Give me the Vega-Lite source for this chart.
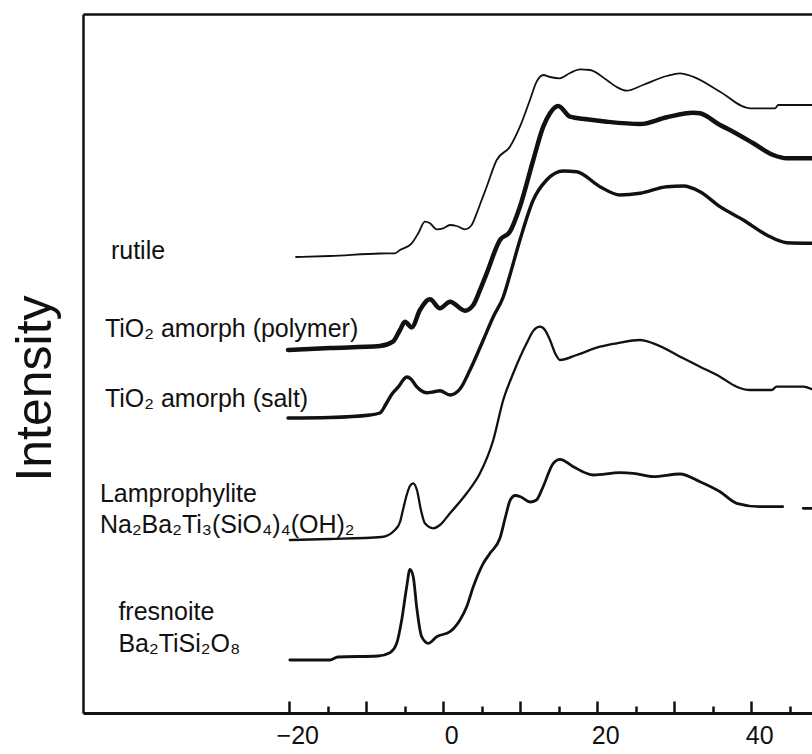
{
  "$schema": "https://vega.github.io/schema/vega-lite/v6.json",
  "width": 729,
  "height": 699,
  "autosize": "none",
  "padding": {"left": 83, "top": 14, "right": 0, "bottom": 41},
  "background": "white",
  "config": {
    "view": {"stroke": null},
    "axis": {"grid": false, "domainColor": "#111", "tickColor": "#111", "labelColor": "#111", "titleColor": "#111", "labelFont": "Liberation Sans", "titleFont": "Liberation Sans"}
  },
  "datasets": {
    "spectra": [
      {"series": "rutile", "part": "rutile", "energy": -19.13, "intensity": 45.6},
      {"series": "rutile", "part": "rutile", "energy": -14.73, "intensity": 45.7},
      {"series": "rutile", "part": "rutile", "energy": -8.23, "intensity": 45.95},
      {"series": "rutile", "part": "rutile", "energy": -6.28, "intensity": 45.97},
      {"series": "rutile", "part": "rutile", "energy": -5.62, "intensity": 46.3},
      {"series": "rutile", "part": "rutile", "energy": -4.1, "intensity": 46.97},
      {"series": "rutile", "part": "rutile", "energy": -3.25, "intensity": 47.97},
      {"series": "rutile", "part": "rutile", "energy": -2.38, "intensity": 49.13},
      {"series": "rutile", "part": "rutile", "energy": -1.73, "intensity": 48.97},
      {"series": "rutile", "part": "rutile", "energy": -0.86, "intensity": 48.37},
      {"series": "rutile", "part": "rutile", "energy": 0, "intensity": 48.47},
      {"series": "rutile", "part": "rutile", "energy": 0.87, "intensity": 48.8},
      {"series": "rutile", "part": "rutile", "energy": 1.74, "intensity": 48.7},
      {"series": "rutile", "part": "rutile", "energy": 2.82, "intensity": 48.37},
      {"series": "rutile", "part": "rutile", "energy": 3.69, "intensity": 48.8},
      {"series": "rutile", "part": "rutile", "energy": 4.34, "intensity": 49.97},
      {"series": "rutile", "part": "rutile", "energy": 4.99, "intensity": 51.3},
      {"series": "rutile", "part": "rutile", "energy": 5.64, "intensity": 52.63},
      {"series": "rutile", "part": "rutile", "energy": 6.94, "intensity": 55.3},
      {"series": "rutile", "part": "rutile", "energy": 8.66, "intensity": 56.63},
      {"series": "rutile", "part": "rutile", "energy": 9.96, "intensity": 58.63},
      {"series": "rutile", "part": "rutile", "energy": 11.26, "intensity": 61.3},
      {"series": "rutile", "part": "rutile", "energy": 12.13, "intensity": 63.13},
      {"series": "rutile", "part": "rutile", "energy": 12.99, "intensity": 63.8},
      {"series": "rutile", "part": "rutile", "energy": 13.86, "intensity": 63.6},
      {"series": "rutile", "part": "rutile", "energy": 15.16, "intensity": 63.47},
      {"series": "rutile", "part": "rutile", "energy": 16.46, "intensity": 64.0},
      {"series": "rutile", "part": "rutile", "energy": 17.76, "intensity": 64.37},
      {"series": "rutile", "part": "rutile", "energy": 19.06, "intensity": 64.3},
      {"series": "rutile", "part": "rutile", "energy": 21.23, "intensity": 63.3},
      {"series": "rutile", "part": "rutile", "energy": 22.53, "intensity": 62.6},
      {"series": "rutile", "part": "rutile", "energy": 23.82, "intensity": 62.23},
      {"series": "rutile", "part": "rutile", "energy": 25.94, "intensity": 62.8},
      {"series": "rutile", "part": "rutile", "energy": 29.02, "intensity": 63.7},
      {"series": "rutile", "part": "rutile", "energy": 30.75, "intensity": 63.97},
      {"series": "rutile", "part": "rutile", "energy": 32.44, "intensity": 63.63},
      {"series": "rutile", "part": "rutile", "energy": 35.95, "intensity": 62.13},
      {"series": "rutile", "part": "rutile", "energy": 39.84, "intensity": 60.47},
      {"series": "rutile", "part": "rutile", "energy": 43.09, "intensity": 60.47},
      {"series": "rutile", "part": "rutile", "energy": 43.52, "intensity": 60.8},
      {"series": "rutile", "part": "rutile", "energy": 47.9, "intensity": 60.8},

      {"series": "polymer", "part": "polymer", "energy": -20.17, "intensity": 36.3},
      {"series": "polymer", "part": "polymer", "energy": -14.73, "intensity": 36.5},
      {"series": "polymer", "part": "polymer", "energy": -8.23, "intensity": 36.7},
      {"series": "polymer", "part": "polymer", "energy": -6.54, "intensity": 37.13},
      {"series": "polymer", "part": "polymer", "energy": -5.62, "intensity": 38.3},
      {"series": "polymer", "part": "polymer", "energy": -4.98, "intensity": 39.13},
      {"series": "polymer", "part": "polymer", "energy": -4.1, "intensity": 38.57},
      {"series": "polymer", "part": "polymer", "energy": -3.03, "intensity": 40.3},
      {"series": "polymer", "part": "polymer", "energy": -1.73, "intensity": 41.37},
      {"series": "polymer", "part": "polymer", "energy": -0.43, "intensity": 40.47},
      {"series": "polymer", "part": "polymer", "energy": 0.87, "intensity": 41.13},
      {"series": "polymer", "part": "polymer", "energy": 2.82, "intensity": 40.23},
      {"series": "polymer", "part": "polymer", "energy": 3.9, "intensity": 40.8},
      {"series": "polymer", "part": "polymer", "energy": 4.77, "intensity": 42.3},
      {"series": "polymer", "part": "polymer", "energy": 5.64, "intensity": 43.97},
      {"series": "polymer", "part": "polymer", "energy": 7.37, "intensity": 47.3},
      {"series": "polymer", "part": "polymer", "energy": 8.66, "intensity": 48.13},
      {"series": "polymer", "part": "polymer", "energy": 9.96, "intensity": 50.63},
      {"series": "polymer", "part": "polymer", "energy": 11.69, "intensity": 55.3},
      {"series": "polymer", "part": "polymer", "energy": 12.99, "intensity": 58.63},
      {"series": "polymer", "part": "polymer", "energy": 13.86, "intensity": 59.97},
      {"series": "polymer", "part": "polymer", "energy": 14.94, "intensity": 60.7},
      {"series": "polymer", "part": "polymer", "energy": 16.46, "intensity": 59.63},
      {"series": "polymer", "part": "polymer", "energy": 18.63, "intensity": 59.37},
      {"series": "polymer", "part": "polymer", "energy": 21.23, "intensity": 59.13},
      {"series": "polymer", "part": "polymer", "energy": 25.55, "intensity": 58.9},
      {"series": "polymer", "part": "polymer", "energy": 29.02, "intensity": 59.57},
      {"series": "polymer", "part": "polymer", "energy": 32.44, "intensity": 60.03},
      {"series": "polymer", "part": "polymer", "energy": 33.35, "intensity": 59.97},
      {"series": "polymer", "part": "polymer", "energy": 35.95, "intensity": 58.8},
      {"series": "polymer", "part": "polymer", "energy": 37.24, "intensity": 58.3},
      {"series": "polymer", "part": "polymer", "energy": 40.27, "intensity": 56.97},
      {"series": "polymer", "part": "polymer", "energy": 42.87, "intensity": 55.8},
      {"series": "polymer", "part": "polymer", "energy": 44.61, "intensity": 55.47},
      {"series": "polymer", "part": "polymer", "energy": 47.9, "intensity": 55.47},

      {"series": "salt", "part": "salt", "energy": -20.17, "intensity": 29.5},
      {"series": "salt", "part": "salt", "energy": -14.73, "intensity": 29.55},
      {"series": "salt", "part": "salt", "energy": -9.52, "intensity": 29.8},
      {"series": "salt", "part": "salt", "energy": -8.23, "intensity": 30.0},
      {"series": "salt", "part": "salt", "energy": -7.44, "intensity": 30.9},
      {"series": "salt", "part": "salt", "energy": -6.66, "intensity": 31.9},
      {"series": "salt", "part": "salt", "energy": -5.75, "intensity": 32.7},
      {"series": "salt", "part": "salt", "energy": -5.11, "intensity": 33.4},
      {"series": "salt", "part": "salt", "energy": -4.72, "intensity": 33.6},
      {"series": "salt", "part": "salt", "energy": -4.2, "intensity": 33.4},
      {"series": "salt", "part": "salt", "energy": -3.46, "intensity": 32.63},
      {"series": "salt", "part": "salt", "energy": -2.16, "intensity": 32.03},
      {"series": "salt", "part": "salt", "energy": -1.34, "intensity": 32.1},
      {"series": "salt", "part": "salt", "energy": -0.43, "intensity": 32.23},
      {"series": "salt", "part": "salt", "energy": 0.87, "intensity": 31.8},
      {"series": "salt", "part": "salt", "energy": 2.17, "intensity": 32.4},
      {"series": "salt", "part": "salt", "energy": 3.47, "intensity": 34.3},
      {"series": "salt", "part": "salt", "energy": 5.2, "intensity": 37.3},
      {"series": "salt", "part": "salt", "energy": 6.5, "intensity": 39.63},
      {"series": "salt", "part": "salt", "energy": 7.79, "intensity": 41.6},
      {"series": "salt", "part": "salt", "energy": 8.66, "intensity": 43.8},
      {"series": "salt", "part": "salt", "energy": 9.96, "intensity": 47.3},
      {"series": "salt", "part": "salt", "energy": 11.69, "intensity": 51.3},
      {"series": "salt", "part": "salt", "energy": 13.43, "intensity": 53.3},
      {"series": "salt", "part": "salt", "energy": 15.59, "intensity": 54.2},
      {"series": "salt", "part": "salt", "energy": 17.33, "intensity": 54.13},
      {"series": "salt", "part": "salt", "energy": 20.36, "intensity": 52.63},
      {"series": "salt", "part": "salt", "energy": 22.95, "intensity": 51.8},
      {"series": "salt", "part": "salt", "energy": 25.55, "intensity": 51.97},
      {"series": "salt", "part": "salt", "energy": 29.02, "intensity": 52.63},
      {"series": "salt", "part": "salt", "energy": 31.18, "intensity": 52.7},
      {"series": "salt", "part": "salt", "energy": 33.35, "intensity": 52.13},
      {"series": "salt", "part": "salt", "energy": 35.95, "intensity": 50.63},
      {"series": "salt", "part": "salt", "energy": 38.97, "intensity": 49.3},
      {"series": "salt", "part": "salt", "energy": 42.01, "intensity": 47.8},
      {"series": "salt", "part": "salt", "energy": 44.61, "intensity": 47.03},
      {"series": "salt", "part": "salt", "energy": 47.9, "intensity": 46.97},

      {"series": "lamprophylite", "part": "lamprophylite", "energy": -19.93, "intensity": 17.3},
      {"series": "lamprophylite", "part": "lamprophylite", "energy": -14.73, "intensity": 17.4},
      {"series": "lamprophylite", "part": "lamprophylite", "energy": -8.0, "intensity": 17.6},
      {"series": "lamprophylite", "part": "lamprophylite", "energy": -6.28, "intensity": 18.3},
      {"series": "lamprophylite", "part": "lamprophylite", "energy": -5.62, "intensity": 19.1},
      {"series": "lamprophylite", "part": "lamprophylite", "energy": -5.24, "intensity": 20.3},
      {"series": "lamprophylite", "part": "lamprophylite", "energy": -4.75, "intensity": 21.8},
      {"series": "lamprophylite", "part": "lamprophylite", "energy": -4.33, "intensity": 22.7},
      {"series": "lamprophylite", "part": "lamprophylite", "energy": -3.9, "intensity": 22.97},
      {"series": "lamprophylite", "part": "lamprophylite", "energy": -3.42, "intensity": 22.3},
      {"series": "lamprophylite", "part": "lamprophylite", "energy": -2.9, "intensity": 20.3},
      {"series": "lamprophylite", "part": "lamprophylite", "energy": -2.38, "intensity": 18.97},
      {"series": "lamprophylite", "part": "lamprophylite", "energy": -1.3, "intensity": 18.47},
      {"series": "lamprophylite", "part": "lamprophylite", "energy": -0.43, "intensity": 18.8},
      {"series": "lamprophylite", "part": "lamprophylite", "energy": 0.87, "intensity": 19.97},
      {"series": "lamprophylite", "part": "lamprophylite", "energy": 3.04, "intensity": 21.97},
      {"series": "lamprophylite", "part": "lamprophylite", "energy": 4.77, "intensity": 23.97},
      {"series": "lamprophylite", "part": "lamprophylite", "energy": 6.5, "intensity": 27.3},
      {"series": "lamprophylite", "part": "lamprophylite", "energy": 7.79, "intensity": 31.3},
      {"series": "lamprophylite", "part": "lamprophylite", "energy": 9.09, "intensity": 33.97},
      {"series": "lamprophylite", "part": "lamprophylite", "energy": 10.83, "intensity": 36.97},
      {"series": "lamprophylite", "part": "lamprophylite", "energy": 11.78, "intensity": 38.3},
      {"series": "lamprophylite", "part": "lamprophylite", "energy": 12.56, "intensity": 38.63},
      {"series": "lamprophylite", "part": "lamprophylite", "energy": 13.21, "intensity": 38.3},
      {"series": "lamprophylite", "part": "lamprophylite", "energy": 13.86, "intensity": 37.3},
      {"series": "lamprophylite", "part": "lamprophylite", "energy": 14.64, "intensity": 35.8},
      {"series": "lamprophylite", "part": "lamprophylite", "energy": 15.16, "intensity": 35.3},
      {"series": "lamprophylite", "part": "lamprophylite", "energy": 17.33, "intensity": 35.8},
      {"series": "lamprophylite", "part": "lamprophylite", "energy": 20.36, "intensity": 36.63},
      {"series": "lamprophylite", "part": "lamprophylite", "energy": 22.53, "intensity": 36.97},
      {"series": "lamprophylite", "part": "lamprophylite", "energy": 25.55, "intensity": 37.3},
      {"series": "lamprophylite", "part": "lamprophylite", "energy": 27.28, "intensity": 36.97},
      {"series": "lamprophylite", "part": "lamprophylite", "energy": 31.18, "intensity": 35.47},
      {"series": "lamprophylite", "part": "lamprophylite", "energy": 33.35, "intensity": 34.63},
      {"series": "lamprophylite", "part": "lamprophylite", "energy": 35.95, "intensity": 33.63},
      {"series": "lamprophylite", "part": "lamprophylite", "energy": 38.11, "intensity": 32.63},
      {"series": "lamprophylite", "part": "lamprophylite", "energy": 39.84, "intensity": 32.3},
      {"series": "lamprophylite", "part": "lamprophylite", "energy": 42.66, "intensity": 32.3},
      {"series": "lamprophylite", "part": "lamprophylite", "energy": 43.31, "intensity": 32.63},
      {"series": "lamprophylite", "part": "lamprophylite", "energy": 46.77, "intensity": 32.63},
      {"series": "lamprophylite", "part": "lamprophylite", "energy": 47.9, "intensity": 32.37},

      {"series": "fresnoite", "part": "fresnoite-a", "energy": -19.93, "intensity": 5.3},
      {"series": "fresnoite", "part": "fresnoite-a", "energy": -14.73, "intensity": 5.3},
      {"series": "fresnoite", "part": "fresnoite-a", "energy": -13.69, "intensity": 5.6},
      {"series": "fresnoite", "part": "fresnoite-a", "energy": -8.49, "intensity": 5.7},
      {"series": "fresnoite", "part": "fresnoite-a", "energy": -6.93, "intensity": 6.03},
      {"series": "fresnoite", "part": "fresnoite-a", "energy": -6.05, "intensity": 6.97},
      {"series": "fresnoite", "part": "fresnoite-a", "energy": -5.4, "intensity": 9.3},
      {"series": "fresnoite", "part": "fresnoite-a", "energy": -4.75, "intensity": 12.63},
      {"series": "fresnoite", "part": "fresnoite-a", "energy": -4.33, "intensity": 14.37},
      {"series": "fresnoite", "part": "fresnoite-a", "energy": -3.9, "intensity": 13.63},
      {"series": "fresnoite", "part": "fresnoite-a", "energy": -3.46, "intensity": 10.63},
      {"series": "fresnoite", "part": "fresnoite-a", "energy": -2.81, "intensity": 7.63},
      {"series": "fresnoite", "part": "fresnoite-a", "energy": -1.95, "intensity": 6.97},
      {"series": "fresnoite", "part": "fresnoite-a", "energy": -0.86, "intensity": 7.63},
      {"series": "fresnoite", "part": "fresnoite-a", "energy": 0.87, "intensity": 8.13},
      {"series": "fresnoite", "part": "fresnoite-a", "energy": 2.17, "intensity": 9.3},
      {"series": "fresnoite", "part": "fresnoite-a", "energy": 3.04, "intensity": 10.63},
      {"series": "fresnoite", "part": "fresnoite-a", "energy": 3.9, "intensity": 12.63},
      {"series": "fresnoite", "part": "fresnoite-a", "energy": 5.2, "intensity": 14.97},
      {"series": "fresnoite", "part": "fresnoite-a", "energy": 6.07, "intensity": 15.97},
      {"series": "fresnoite", "part": "fresnoite-a", "energy": 7.37, "intensity": 17.5},
      {"series": "fresnoite", "part": "fresnoite-a", "energy": 8.14, "intensity": 19.8},
      {"series": "fresnoite", "part": "fresnoite-a", "energy": 8.7, "intensity": 21.3},
      {"series": "fresnoite", "part": "fresnoite-a", "energy": 9.35, "intensity": 21.75},
      {"series": "fresnoite", "part": "fresnoite-a", "energy": 10.1, "intensity": 21.6},
      {"series": "fresnoite", "part": "fresnoite-a", "energy": 11.3, "intensity": 21.1},
      {"series": "fresnoite", "part": "fresnoite-a", "energy": 12.1, "intensity": 21.3},
      {"series": "fresnoite", "part": "fresnoite-a", "energy": 12.9, "intensity": 22.5},
      {"series": "fresnoite", "part": "fresnoite-a", "energy": 14.29, "intensity": 24.97},
      {"series": "fresnoite", "part": "fresnoite-a", "energy": 15.16, "intensity": 25.37},
      {"series": "fresnoite", "part": "fresnoite-a", "energy": 16.89, "intensity": 24.63},
      {"series": "fresnoite", "part": "fresnoite-a", "energy": 19.49, "intensity": 23.8},
      {"series": "fresnoite", "part": "fresnoite-a", "energy": 22.95, "intensity": 24.03},
      {"series": "fresnoite", "part": "fresnoite-a", "energy": 24.68, "intensity": 23.97},
      {"series": "fresnoite", "part": "fresnoite-a", "energy": 27.28, "intensity": 23.63},
      {"series": "fresnoite", "part": "fresnoite-a", "energy": 30.75, "intensity": 23.9},
      {"series": "fresnoite", "part": "fresnoite-a", "energy": 33.35, "intensity": 23.13},
      {"series": "fresnoite", "part": "fresnoite-a", "energy": 35.95, "intensity": 22.13},
      {"series": "fresnoite", "part": "fresnoite-a", "energy": 38.11, "intensity": 20.97},
      {"series": "fresnoite", "part": "fresnoite-a", "energy": 41.14, "intensity": 20.63},
      {"series": "fresnoite", "part": "fresnoite-a", "energy": 44.09, "intensity": 20.63},
      {"series": "fresnoite", "part": "fresnoite-b", "energy": 46.77, "intensity": 20.47},
      {"series": "fresnoite", "part": "fresnoite-b", "energy": 47.9, "intensity": 20.47}
    ],
    "labels": [
      {"kind": "name", "label": "rutile", "energy": -43.17, "intensity": 45.4},
      {"kind": "name", "label": "TiO₂ amorph (polymer)", "energy": -43.95, "intensity": 37.6},
      {"kind": "name", "label": "TiO₂ amorph (salt)", "energy": -43.95, "intensity": 30.6},
      {"kind": "name", "label": "Lamprophylite", "energy": -44.6, "intensity": 21.1},
      {"kind": "formula", "label": "Na₂Ba₂Ti₃(SiO₄)₄(OH)₂", "energy": -44.6, "intensity": 18.0},
      {"kind": "name", "label": "fresnoite", "energy": -42.2, "intensity": 9.3},
      {"kind": "formula", "label": "Ba₂TiSi₂O₈", "energy": -42.2, "intensity": 6.1}
    ]
  },
  "resolve": {"axis": {"x": "independent", "y": "independent"}},
  "layer": [
    {
      "data": {"name": "spectra"},
      "mark": {"type": "line", "interpolate": "monotone", "color": "#111", "strokeCap": "round", "strokeJoin": "round"},
      "encoding": {
        "x": {
          "field": "energy", "type": "quantitative",
          "scale": {"domain": [-46.8, 47.9], "nice": false, "zero": false},
          "axis": {
            "orient": "bottom",
            "values": [-20, -10, 0, 10, 20, 30, 40],
            "labelExpr": "datum.value % 20 === 0 ? datum.label : ''",
            "tickSize": -12,
            "tickWidth": 2.5,
            "domainWidth": 3,
            "labelFontSize": 25,
            "labelPadding": 22,
            "labelOffset": 8,
            "title": null
          }
        },
        "y": {
          "field": "intensity", "type": "quantitative",
          "scale": {"domain": [0, 69.9], "nice": false, "zero": false},
          "axis": {
            "orient": "left",
            "ticks": false,
            "labels": false,
            "domainWidth": 2.5,
            "title": "Intensity",
            "titleFontSize": 50,
            "titleFontWeight": "normal",
            "titleX": -33,
            "titleY": 374,
            "titleAngle": 270,
            "titleBaseline": "alphabetic",
            "titleAlign": "center"
          }
        },
        "detail": {"field": "part"},
        "strokeWidth": {
          "field": "series", "type": "ordinal",
          "scale": {"type": "ordinal", "domain": ["rutile", "polymer", "salt", "lamprophylite", "fresnoite"], "range": [1.8, 4.5, 3.4, 2.3, 2.8]},
          "legend": null
        }
      }
    },
    {
      "data": {"name": "labels"},
      "transform": [{"filter": "datum.kind === 'name'"}],
      "mark": {"type": "text", "align": "left", "baseline": "alphabetic", "font": "Liberation Sans", "fontSize": 25, "color": "#111"},
      "encoding": {
        "x": {
          "field": "energy", "type": "quantitative",
          "axis": {"orient": "top", "domain": true, "domainWidth": 2.5, "ticks": false, "labels": false, "title": null}
        },
        "y": {"field": "intensity", "type": "quantitative", "axis": null},
        "text": {"field": "label"}
      }
    },
    {
      "data": {"name": "labels"},
      "transform": [{"filter": "datum.kind === 'formula'"}],
      "mark": {"type": "text", "align": "left", "baseline": "alphabetic", "font": "Liberation Sans", "fontSize": 25, "color": "#111"},
      "encoding": {
        "x": {
          "field": "energy", "type": "quantitative",
          "axis": {"orient": "bottom", "values": [-15, -5, 5, 15, 25, 35, 45], "domain": false, "tickSize": -7, "tickWidth": 2.5, "labels": false, "title": null}
        },
        "y": {"field": "intensity", "type": "quantitative", "axis": null},
        "text": {"field": "label"}
      }
    }
  ]
}
